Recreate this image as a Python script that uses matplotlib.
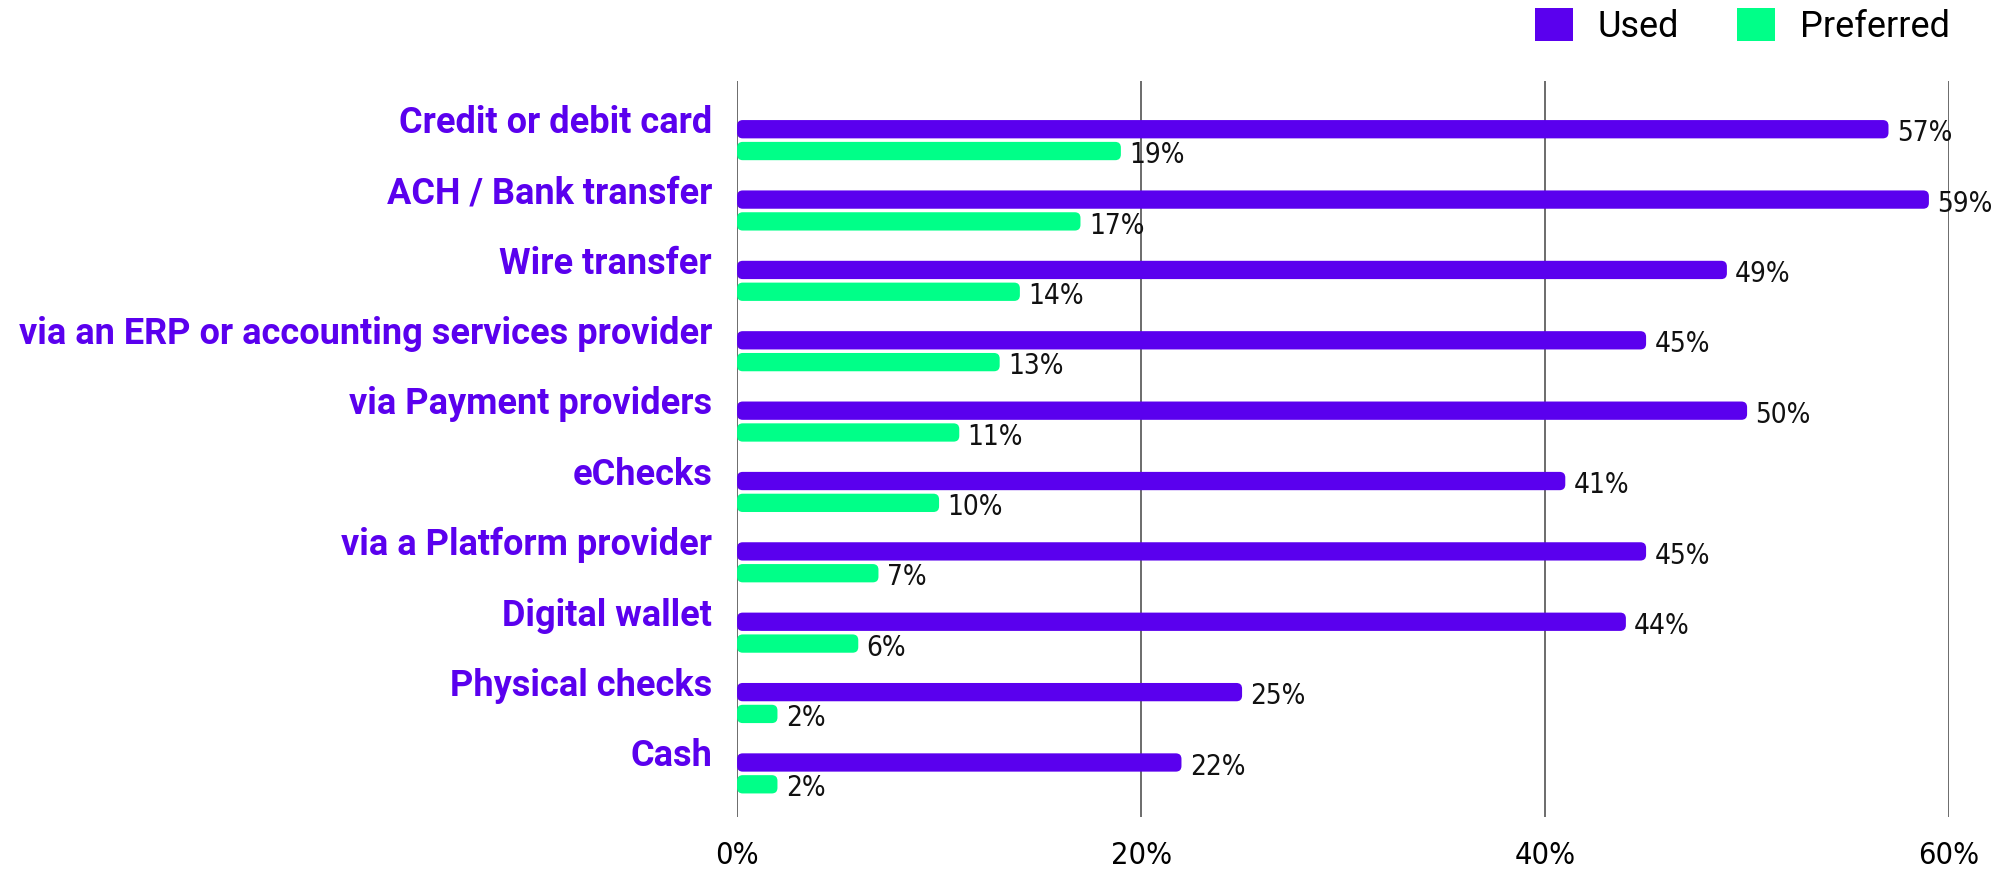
import matplotlib
matplotlib.use("Agg")
import matplotlib.pyplot as plt
from matplotlib.patches import FancyBboxPatch, Patch
import numpy as np

# survey results: payment methods used vs preferred (%)
methods = ["Credit or debit card", "ACH / Bank transfer", "Wire transfer",
           "via an ERP or accounting services provider", "via Payment providers",
           "eChecks", "via a Platform provider", "Digital wallet",
           "Physical checks", "Cash"]
used = [57, 59, 49, 45, 50, 41, 45, 44, 25, 22]
preferred = [19, 17, 14, 13, 11, 10, 7, 6, 2, 2]
xticks = [0, 20, 40, 60]

PURPLE = "#5A00EE"
GREEN = "#00FF88"
GRID = "#444444"

fig = plt.figure(figsize=(20.1, 8.74), dpi=100)
ax = fig.add_axes([0.3667, 0.0652, 0.6030, 0.8421])

y = np.arange(len(methods))
h = 0.26
off = 0.155

b1 = ax.barh(y - off, used, height=h, color=PURPLE, zorder=3)
b2 = ax.barh(y + off, preferred, height=h, color=GREEN, zorder=3)


def round_bars(container, color):
    # swap the plain rectangles for ones with rounded corners
    for r in container.patches:
        x0, y0 = r.get_x(), r.get_y()
        w, hh = r.get_width(), r.get_height()
        r.set_visible(False)
        p = FancyBboxPatch((x0, y0), w, hh,
                           boxstyle="round,pad=0,rounding_size=0.28",
                           mutation_aspect=0.29, fc=color, ec="none", zorder=3)
        ax.add_patch(p)


round_bars(b1, PURPLE)
round_bars(b2, GREEN)

for cont in (b1, b2):
    anns = ax.bar_label(cont, labels=[f"{v}%" for v in cont.datavalues], padding=6,
                        fontsize=20, family="DejaVu Sans", fontstretch="condensed",
                        color="#111111")
    # nudge the values a touch below the bar centre
    for a in anns:
        a.xyann = (6, -3)

ax.set_xlim(0, 60)
ax.set_ylim(len(methods) - 1 + 0.62, -0.84)
ax.set_xticks(xticks)
ax.set_xticklabels([f"{t}%" for t in xticks], fontsize=22, family="DejaVu Sans",
                   fontstretch="condensed")
ax.set_yticks(y - 0.3)
ax.set_yticklabels(methods, fontsize=26, fontweight="bold", family="Roboto",
                   color=PURPLE)
ax.tick_params(axis="x", length=0, pad=17)
ax.tick_params(axis="y", length=0, pad=18)
ax.grid(axis="x", color=GRID, linewidth=1.1, zorder=1)
for s in ax.spines.values():
    s.set_visible(False)

handles = [Patch(fc=PURPLE, ec="none", label="Used"),
           Patch(fc=GREEN, ec="none", label="Preferred")]
fig.legend(handles=handles, loc="upper right", bbox_to_anchor=(0.982, 1.018),
           ncol=2, frameon=False, prop={"family": "Roboto", "size": 26},
           handlelength=1.05, handleheight=1.05, handletextpad=0.7,
           columnspacing=1.6, borderpad=0.15)

fig.savefig("out.png", dpi=100)
